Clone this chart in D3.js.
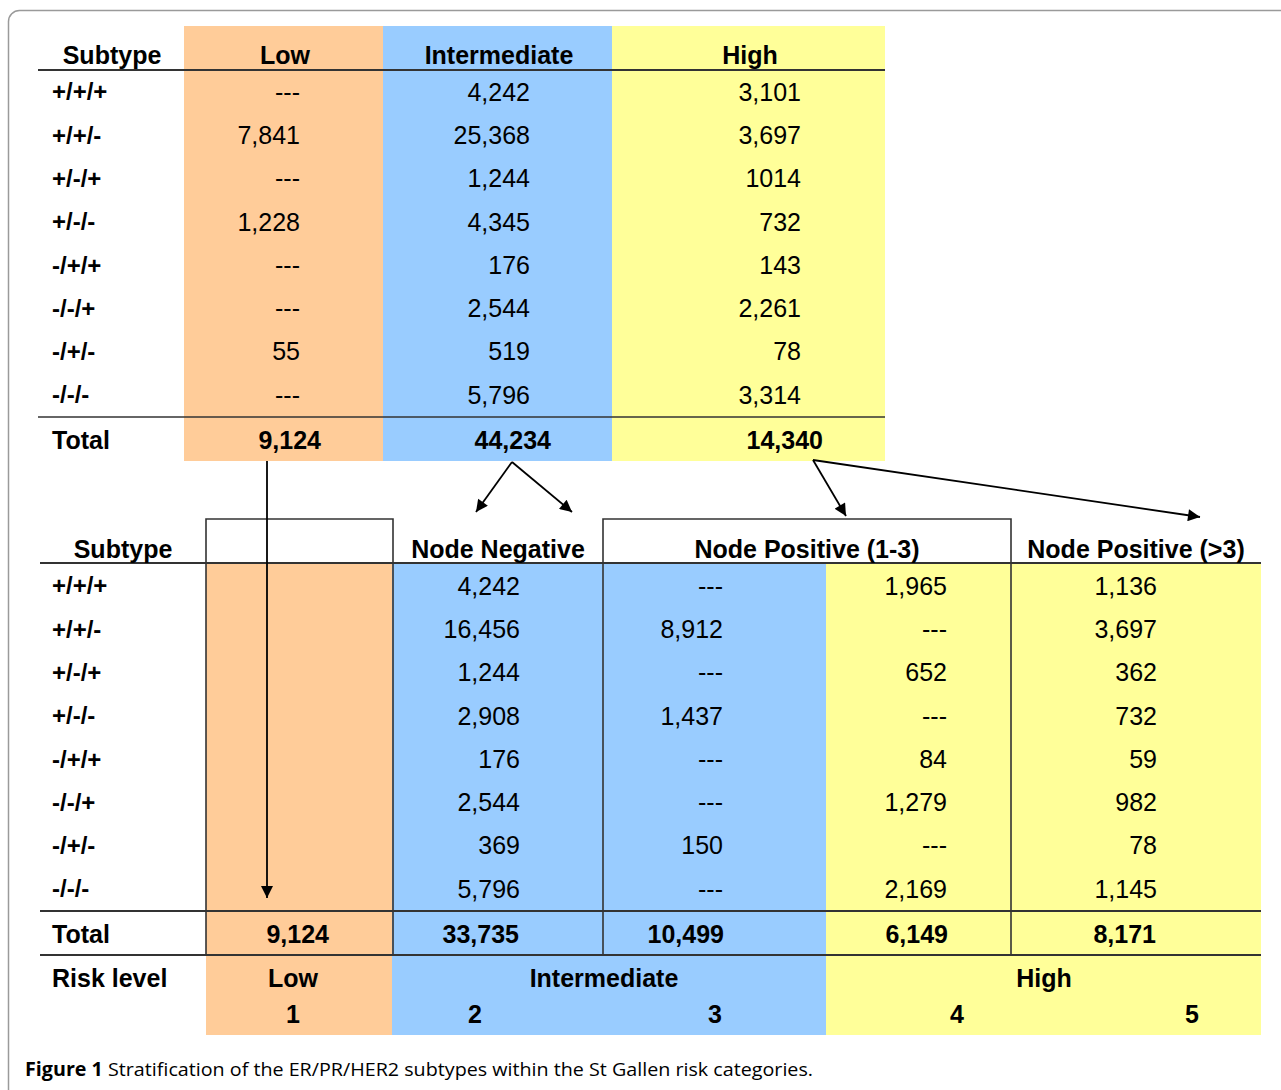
<!DOCTYPE html>
<html>
<head>
<meta charset="utf-8">
<script src="https://cdn.jsdelivr.net/npm/d3@7/dist/d3.min.js"></script>
<style>
  html, body { margin: 0; padding: 0; background: #fff; }
  svg { display: block; }
  .tbl text { font-family: "Liberation Sans", Arimo, Arial, Helvetica, sans-serif; fill: #000; }
</style>
</head>
<body>
<svg id="chart" width="1281" height="1090"></svg>
<script>
// ---------------- DATA ----------------
const subtypes = ["+/+/+", "+/+/-", "+/-/+", "+/-/-", "-/+/+", "-/-/+", "-/+/-", "-/-/-"];

// Top table: St Gallen risk categories
const topColumns = ["Low", "Intermediate", "High"];
const topLow = ["---", "7,841", "---", "1,228", "---", "---", "55", "---"];
const topIntermediate = ["4,242", "25,368", "1,244", "4,345", "176", "2,544", "519", "5,796"];
const topHigh = ["3,101", "3,697", "1014", "732", "143", "2,261", "78", "3,314"];
const topTotals = ["9,124", "44,234", "14,340"];

// Bottom table: split by node status
const bottomColumns = ["", "Node Negative", "Node Positive (1-3)", "Node Positive (>3)"];
const botNodeNeg = ["4,242", "16,456", "1,244", "2,908", "176", "2,544", "369", "5,796"];
const botPos13Inter = ["---", "8,912", "---", "1,437", "---", "---", "150", "---"];
const botPos13High = ["1,965", "---", "652", "---", "84", "1,279", "---", "2,169"];
const botPos3 = ["1,136", "3,697", "362", "732", "59", "982", "78", "1,145"];
const botTotals = ["9,124", "33,735", "10,499", "6,149", "8,171"];

const riskLevels = ["Low", "Intermediate", "High"];
const riskNumbers = ["1", "2", "3", "4", "5"];

const captionBold = "Figure 1";
const captionText = " Stratification of the ER/PR/HER2 subtypes within the St Gallen risk categories.";

// ---------------- STYLE ----------------
const ORANGE = "#FFCC99", BLUE = "#99CCFF", YELLOW = "#FFFF99";
const LINE = "#333";
const FONT = "'Liberation Sans', Arimo, Arial, Helvetica, sans-serif";

const svg = d3.select("#chart");

// frame
svg.append("rect")
  .attr("x", 8.5).attr("y", 10.5).attr("width", 1400).attr("height", 1200)
  .attr("rx", 11).attr("ry", 11)
  .attr("fill", "none").attr("stroke", "#9a9a9a").attr("stroke-width", 1.5);

// arrow marker
svg.append("defs").append("marker")
  .attr("id", "arrow").attr("viewBox", "0 0 10 10")
  .attr("refX", 10).attr("refY", 5)
  .attr("markerUnits", "userSpaceOnUse")
  .attr("markerWidth", 14).attr("markerHeight", 12)
  .attr("orient", "auto")
  .append("path").attr("d", "M0,0 L10,5 L0,10 Z").attr("fill", "#000");

// ---------------- TOP TABLE ----------------
const topY = d3.scalePoint().domain(subtypes).range([92, 395]);
const topColX = d3.scaleOrdinal().domain(topColumns).range([[184, 383], [383, 612], [612, 885]]);
const topColors = d3.scaleOrdinal().domain(topColumns).range([ORANGE, BLUE, YELLOW]);
const topHeadX = d3.scaleOrdinal().domain(topColumns).range([285, 499, 750]);
const topValX = d3.scaleOrdinal().domain(topColumns).range([300, 530, 801]);
const topTotX = d3.scaleOrdinal().domain(topColumns).range([321, 551, 823]);
const topSeries = { "Low": topLow, "Intermediate": topIntermediate, "High": topHigh };

const gTop = svg.append("g").attr("class", "tbl").attr("font-family", FONT);
gTop.selectAll("rect.col").data(topColumns).join("rect")
  .attr("x", d => topColX(d)[0]).attr("width", d => topColX(d)[1] - topColX(d)[0])
  .attr("y", 26).attr("height", 461 - 26)
  .attr("fill", d => topColors(d));

gTop.append("line").attr("x1", 38).attr("x2", 885).attr("y1", 70).attr("y2", 70)
  .attr("stroke", LINE).attr("stroke-width", 2);
gTop.append("line").attr("x1", 38).attr("x2", 885).attr("y1", 417).attr("y2", 417)
  .attr("stroke", LINE).attr("stroke-width", 1.6);

gTop.append("text").attr("x", 112).attr("y", 55).attr("dy", "0.35em")
  .attr("text-anchor", "middle").attr("font-weight", "bold").attr("font-size", 25).text("Subtype");
gTop.selectAll("text.head").data(topColumns).join("text").attr("class", "head")
  .attr("x", d => topHeadX(d)).attr("y", 55).attr("dy", "0.35em")
  .attr("text-anchor", "middle").attr("font-weight", "bold").attr("font-size", 25).text(d => d);

gTop.selectAll("text.lab").data(subtypes).join("text").attr("class", "lab")
  .attr("x", 52).attr("y", d => topY(d)).attr("dy", "0.35em")
  .attr("font-weight", "bold").attr("font-size", 24).text(d => d);

topColumns.forEach(c => {
  gTop.selectAll(null).data(topSeries[c]).join("text")
    .attr("x", topValX(c)).attr("y", (d, i) => topY(subtypes[i])).attr("dy", "0.35em")
    .attr("text-anchor", "end").attr("font-size", 25).text(d => d);
});

gTop.append("text").attr("x", 52).attr("y", 440).attr("dy", "0.35em")
  .attr("font-weight", "bold").attr("font-size", 25).text("Total");
gTop.selectAll("text.tot").data(topTotals).join("text").attr("class", "tot")
  .attr("x", (d, i) => topTotX(topColumns[i])).attr("y", 440).attr("dy", "0.35em")
  .attr("text-anchor", "end").attr("font-weight", "bold").attr("font-size", 25).text(d => d);

// ---------------- BOTTOM TABLE ----------------
const botY = d3.scalePoint().domain(subtypes).range([586, 889]);
const gBot = svg.append("g").attr("class", "tbl").attr("font-family", FONT);

// colour bands
const bands = [
  { x0: 206, x1: 392, c: ORANGE },
  { x0: 392, x1: 826, c: BLUE },
  { x0: 826, x1: 1261, c: YELLOW }
];
gBot.selectAll("rect.band").data(bands).join("rect")
  .attr("x", d => d.x0).attr("width", d => d.x1 - d.x0)
  .attr("y", 563).attr("height", 1035 - 563).attr("fill", d => d.c);

// boxes
const boxes = [[206, 393], [603, 1011]];
gBot.selectAll("path.box").data(boxes).join("path")
  .attr("d", d => `M${d[0]},955 V519 H${d[1]} V955`)
  .attr("fill", "none").attr("stroke", LINE).attr("stroke-width", 1.6);

[[563, 2], [911, 1.8], [955, 1.8]].forEach(([y, w]) => {
  gBot.append("line").attr("x1", 40).attr("x2", 1261).attr("y1", y).attr("y2", y)
    .attr("stroke", LINE).attr("stroke-width", w);
});

const botHeadX = [298, 498, 807, 1136];
gBot.append("text").attr("x", 123).attr("y", 549).attr("dy", "0.35em")
  .attr("text-anchor", "middle").attr("font-weight", "bold").attr("font-size", 25).text("Subtype");
gBot.selectAll("text.head").data(bottomColumns).join("text").attr("class", "head")
  .attr("x", (d, i) => botHeadX[i]).attr("y", 549).attr("dy", "0.35em")
  .attr("text-anchor", "middle").attr("font-weight", "bold").attr("font-size", 25).text(d => d);

gBot.selectAll("text.lab").data(subtypes).join("text").attr("class", "lab")
  .attr("x", 52).attr("y", d => botY(d)).attr("dy", "0.35em")
  .attr("font-weight", "bold").attr("font-size", 24).text(d => d);

const botSeries = [botNodeNeg, botPos13Inter, botPos13High, botPos3];
const botValX = [520, 723, 947, 1157];
botSeries.forEach((s, k) => {
  gBot.selectAll(null).data(s).join("text")
    .attr("x", botValX[k]).attr("y", (d, i) => botY(subtypes[i])).attr("dy", "0.35em")
    .attr("text-anchor", "end").attr("font-size", 25).text(d => d);
});

gBot.append("text").attr("x", 52).attr("y", 934).attr("dy", "0.35em")
  .attr("font-weight", "bold").attr("font-size", 25).text("Total");
const botTotX = [329, 519, 724, 948, 1156];
gBot.selectAll("text.tot").data(botTotals).join("text").attr("class", "tot")
  .attr("x", (d, i) => botTotX[i]).attr("y", 934).attr("dy", "0.35em")
  .attr("text-anchor", "end").attr("font-weight", "bold").attr("font-size", 25).text(d => d);

gBot.append("text").attr("x", 52).attr("y", 978).attr("dy", "0.35em")
  .attr("font-weight", "bold").attr("font-size", 25).text("Risk level");
const riskX = [293, 604, 1044];
gBot.selectAll("text.risk").data(riskLevels).join("text").attr("class", "risk")
  .attr("x", (d, i) => riskX[i]).attr("y", 978).attr("dy", "0.35em")
  .attr("text-anchor", "middle").attr("font-weight", "bold").attr("font-size", 25).text(d => d);
const numX = [293, 475, 715, 957, 1192];
gBot.selectAll("text.num").data(riskNumbers).join("text").attr("class", "num")
  .attr("x", (d, i) => numX[i]).attr("y", 1014).attr("dy", "0.35em")
  .attr("text-anchor", "middle").attr("font-weight", "bold").attr("font-size", 25).text(d => d);

// ---------------- ARROWS ----------------
const arrows = [
  [267, 461, 267, 898],
  [512, 462, 476, 512],
  [512, 462, 572, 512],
  [813, 460, 846, 516],
  [813, 460, 1200, 517]
];
svg.append("g").selectAll("line").data(arrows).join("line")
  .attr("x1", d => d[0]).attr("y1", d => d[1]).attr("x2", d => d[2]).attr("y2", d => d[3])
  .attr("stroke", "#000").attr("stroke-width", 1.8).attr("marker-end", "url(#arrow)");

// ---------------- CAPTION ----------------
const cap = svg.append("text").attr("x", 25).attr("y", 1076)
  .attr("font-size", 19).attr("font-family", "'Open Sans', 'Noto Sans', sans-serif")
  .attr("textLength", 788).attr("lengthAdjust", "spacingAndGlyphs");
cap.append("tspan").attr("font-weight", "bold").text(captionBold);
cap.append("tspan").text(captionText);
</script>
</body>
</html>
